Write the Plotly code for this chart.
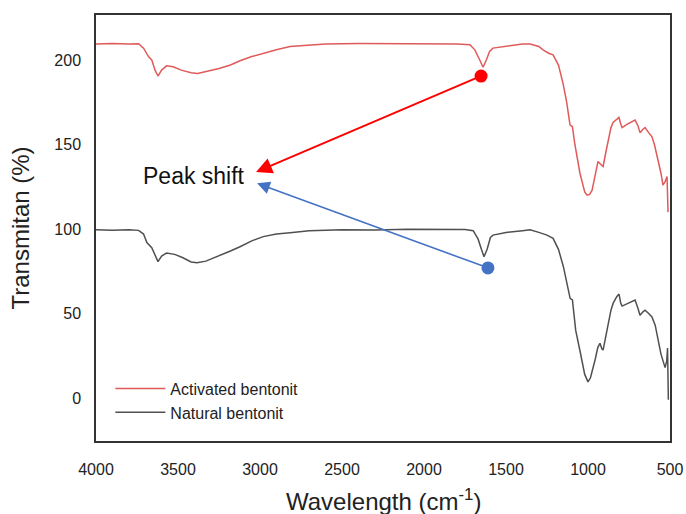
import plotly.graph_objects as go

# Activated bentonit (wavenumber, transmittance)
act_wn = [4000, 3900, 3800, 3740, 3710, 3680, 3660, 3640, 3622, 3600, 3570, 3530, 3480, 3420, 3380, 3330,
          3250, 3180, 3122, 3050, 2980, 2900, 2817, 2700, 2600, 2400, 2200, 2000, 1800, 1720, 1690, 1660,
          1640, 1620, 1600, 1580, 1500, 1400, 1353, 1300, 1274, 1240, 1213, 1180, 1152, 1130, 1115, 1109,
          1095, 1080, 1049, 1020, 1006, 990, 975, 955, 939, 920, 908, 890, 878, 860, 847, 825, 811, 800,
          792, 760, 713, 695, 683, 665, 652, 630, 610, 595, 573, 555, 543, 530, 518, 515, 512]
act_val = [209.5, 209.8, 209.4, 209.6, 207, 202, 200, 194, 190.5, 194, 196.5, 196, 194, 192.5, 192, 193,
           195, 197, 199.5, 202, 204, 206, 208, 209, 209.5, 209.8, 209.6, 209.8, 209.5, 209, 206, 200,
           195.7, 200, 205, 207, 208, 209.5, 209.5, 208, 206, 204, 203, 197, 186, 175, 165, 161.5,
           160.5, 150, 133, 122, 120, 120.5, 123, 133, 140, 138, 137, 146, 151, 160, 163, 165, 166, 162,
           160, 162, 164.5, 161, 157, 159, 160, 157, 154.5, 150, 141, 133, 126, 128, 131, 125, 110]

# Natural bentonit
nat_wn = [4000, 3900, 3800, 3740, 3710, 3690, 3660, 3640, 3622, 3600, 3570, 3520, 3470, 3420, 3384, 3330,
          3250, 3180, 3122, 3050, 2980, 2900, 2817, 2700, 2500, 2300, 2100, 1900, 1750, 1700, 1670, 1650,
          1634, 1615, 1595, 1579, 1500, 1400, 1353, 1300, 1250, 1213, 1180, 1150, 1128, 1109, 1095, 1075,
          1049, 1020, 1000, 985, 957, 940, 927, 915, 908, 890, 878, 860, 847, 825, 811, 800, 792, 760,
          713, 695, 683, 665, 652, 630, 610, 590, 573, 555, 530, 520, 515, 512, 510]
nat_val = [99.5, 99.3, 99.6, 99.2, 97, 92, 89, 84, 80.7, 84, 85.8, 85, 83, 80.5, 80, 81,
           84, 87, 89.5, 93, 95.5, 97, 97.8, 99, 99.6, 99.4, 99.8, 99.5, 99.7, 99, 94, 88,
           83.6, 88, 95, 96.4, 98, 99, 99.5, 98, 96.4, 94.5, 88, 77.7, 68, 59, 58, 40,
           28, 14, 9.6, 12, 22.5, 30, 32.4, 29, 28.4, 38, 42, 52, 56, 60, 61.5, 56, 54.4, 56,
           58, 53, 49, 51, 52, 50, 48, 43, 34.3, 26, 18, 22, 29.6, 20, -1]

# Peak shift markers (wavenumber, value) and arrow targets
red_pt = (1652, 190.5)
red_tip = (3024, 133.7)
blue_pt = (1610, 77)
blue_tip = (3018, 127)
label_pos = (3400, 131.4)

x_ticks = [4000, 3500, 3000, 2500, 2000, 1500, 1000, 500]
y_ticks = [0, 50, 100, 150, 200]

FONT = "Arial, Liberation Sans"

fig = go.Figure()
fig.add_trace(go.Scatter(x=act_wn, y=act_val, mode="lines", name="Activated bentonit",
                         line=dict(color="#e05a5a", width=1.5)))
fig.add_trace(go.Scatter(x=nat_wn, y=nat_val, mode="lines", name="Natural bentonit",
                         line=dict(color="#505050", width=1.5)))

fig.add_trace(go.Scatter(x=[red_pt[0]], y=[red_pt[1]], mode="markers", showlegend=False,
                         marker=dict(color="#ff0000", size=13)))
fig.add_trace(go.Scatter(x=[blue_pt[0]], y=[blue_pt[1]], mode="markers", showlegend=False,
                         marker=dict(color="#4472c4", size=13)))

fig.add_annotation(x=red_tip[0], y=red_tip[1], ax=red_pt[0], ay=red_pt[1], xref="x", yref="y",
                   axref="x", ayref="y", showarrow=True, arrowhead=2, arrowsize=1.6, arrowwidth=2,
                   arrowcolor="#ff0000", text="")
fig.add_annotation(x=blue_tip[0], y=blue_tip[1], ax=blue_pt[0], ay=blue_pt[1], xref="x", yref="y",
                   axref="x", ayref="y", showarrow=True, arrowhead=2, arrowsize=1.6, arrowwidth=1.6,
                   arrowcolor="#4472c4", text="")
fig.add_annotation(x=label_pos[0], y=label_pos[1], xref="x", yref="y", text="Peak shift",
                   showarrow=False, font=dict(family=FONT, size=23, color="#111"))
# x-axis title
fig.add_annotation(x=0.5, y=-0.138, xref="paper", yref="paper", xanchor="center", yanchor="middle",
                   text="Wavelength (cm<sup>-1</sup>)", showarrow=False,
                   font=dict(family=FONT, size=24, color="#222"))

fig.update_layout(
    width=686, height=514,
    margin=dict(l=96, r=16, t=15, b=73),
    paper_bgcolor="white", plot_bgcolor="white",
    font=dict(family=FONT, color="#222"),
    legend=dict(x=0.025, y=0.163, xanchor="left", yanchor="top", bgcolor="rgba(0,0,0,0)",
                font=dict(size=16, color="#222"), tracegroupgap=0, itemwidth=50),
)
fig.update_xaxes(range=[4000, 500], tickvals=x_ticks, ticks="", showgrid=False, zeroline=False,
                 showline=True, linecolor="#333", linewidth=1.5, mirror=True, automargin=False,
                 tickfont=dict(size=16, color="#222"), ticklabelstandoff=13)
fig.update_yaxes(range=[-25.4, 226.6], tickvals=y_ticks, ticks="", showgrid=False, zeroline=False,
                 showline=True, linecolor="#333", linewidth=1.5, mirror=True, automargin=False,
                 tickfont=dict(size=16, color="#222"), ticklabelstandoff=10,
                 title=dict(text="Transmitan (%)", font=dict(size=24, color="#222"), standoff=18))

fig.write_html("out.html")
